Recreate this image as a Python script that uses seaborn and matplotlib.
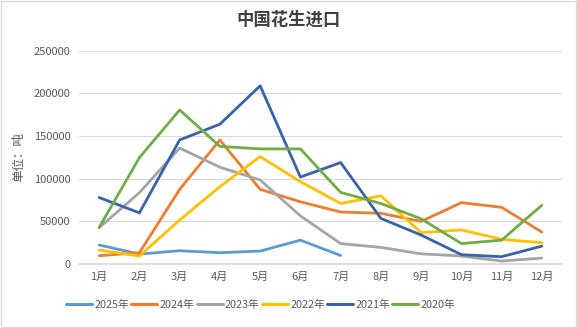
import matplotlib
matplotlib.use("Agg")
import matplotlib.pyplot as plt
import seaborn as sns
import pandas as pd
from matplotlib.lines import Line2D

months = ["1月", "2月", "3月", "4月", "5月", "6月", "7月", "8月", "9月", "10月", "11月", "12月"]
years = ["2025年", "2024年", "2023年", "2022年", "2021年", "2020年"]
v2025 = [22300, 11700, 15600, 13300, 15200, 28000, 10000]
v2024 = [9800, 13300, 87600, 145500, 87600, 73000, 61000, 59500, 50000, 72000, 66500, 37500]
v2023 = [42600, 83700, 136000, 113500, 98600, 56500, 24000, 19500, 12000, 9400, 3500, 7000]
v2022 = [16400, 9400, 51600, 90700, 126000, 96600, 71000, 80000, 36800, 40000, 29000, 25000]
v2021 = [78000, 60000, 145500, 164000, 209000, 102000, 119000, 53500, 34000, 11000, 8600, 21000]
v2020 = [43000, 124800, 180700, 138000, 135000, 135000, 84000, 71000, 53000, 24000, 28000, 69000]
colors = ["#5B9BD5", "#ED7D31", "#A5A5A5", "#FFC000", "#3A62AB", "#70AD47"]

series = [v2025, v2024, v2023, v2022, v2021, v2020]
rows = []
for y, vals in zip(years, series):
    for i, v in enumerate(vals):
        rows.append({"month": i, "value": v, "year": y})
df = pd.DataFrame(rows)

sns.set_theme(style="white")
plt.rcParams["font.family"] = ["Noto Sans CJK SC", "DejaVu Sans"]

fig = plt.figure(figsize=(5.77, 3.28), dpi=100)
ax = fig.add_axes([0.137, 0.195, 0.837, 0.65])
sns.lineplot(data=df, x="month", y="value", hue="year", hue_order=years,
             palette=colors, linewidth=2.0, ax=ax, legend=False)

ax.set_xlim(-0.5, 11.5)
ax.set_ylim(0, 250000)
ax.set_yticks([0, 50000, 100000, 150000, 200000, 250000])
ax.set_yticklabels(["0", "50000", "100000", "150000", "200000", "250000"])
ax.set_xticks(range(12))
ax.set_xticklabels(months)
ax.tick_params(axis="both", colors="#595959", labelsize=8, length=0, pad=6)
ax.grid(axis="y", color="#D9D9D9", linewidth=0.8)
ax.set_axisbelow(True)
for s in ["top", "right", "left"]:
    ax.spines[s].set_visible(False)
ax.spines["bottom"].set_color("#D9D9D9")
ax.set_xlabel("")
ax.set_ylabel("单位：吨", color="#595959", fontsize=9, labelpad=6)

fig.text(0.5, 0.94, "中国花生进口", ha="center", va="center", fontsize=12.5,
         fontweight="bold", color="#404040")

handles = [Line2D([0], [0], color=c, lw=2.2) for c in colors]
fig.legend(handles, years, loc="center", bbox_to_anchor=(0.452, 0.07), ncol=6,
           frameon=False, fontsize=7.8, handlelength=2.4, handletextpad=0.2,
           columnspacing=0.2, labelcolor="#595959")

fig.patches.append(plt.Rectangle((0.002, 0.003), 0.996, 0.994, transform=fig.transFigure,
                                 fill=False, edgecolor="#D9D9D9", linewidth=1))
fig.savefig("out.png", dpi=100)
